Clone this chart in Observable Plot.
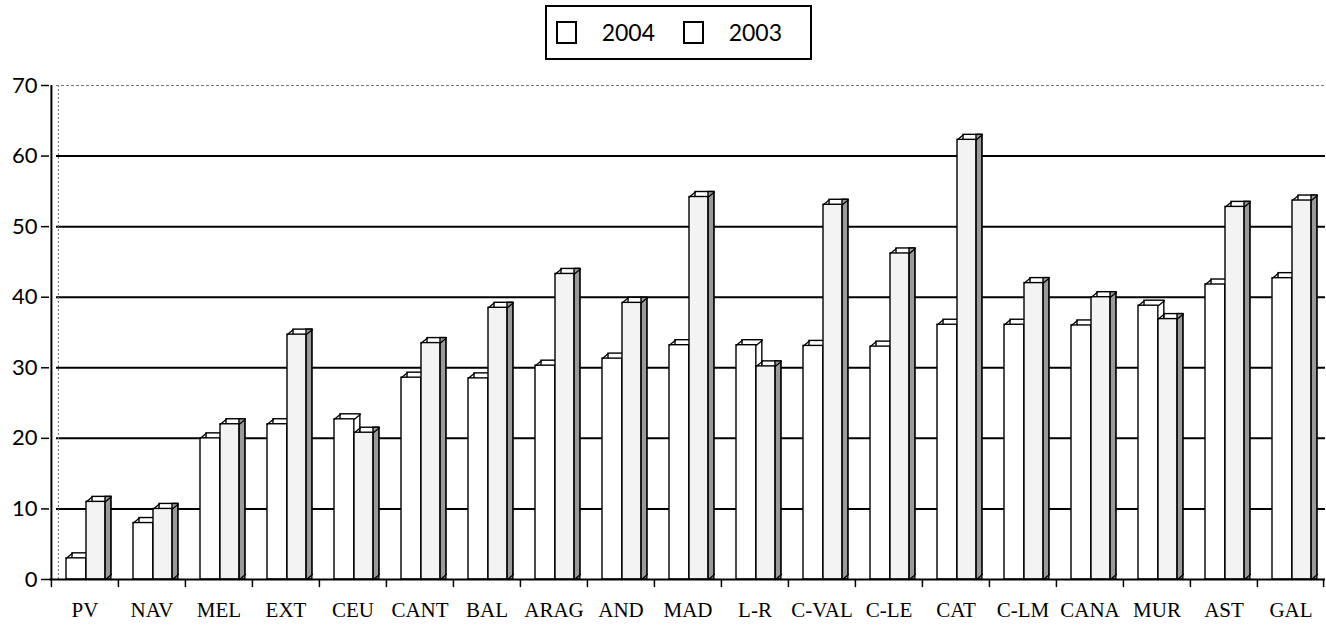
<!DOCTYPE html>
<html><head><meta charset="utf-8">
<script src="https://cdn.jsdelivr.net/npm/d3@7"></script>
<script src="https://cdn.jsdelivr.net/npm/@observablehq/plot@0.6"></script>
<style>
body{margin:0;background:#fff;}
#wrap{position:relative;width:1326px;height:636px;overflow:hidden;}
#legend{position:absolute;left:545px;top:5px;width:254px;height:51px;border:2px solid #000;display:flex;align-items:center;padding-left:9px;box-sizing:content-box;font-family:Lato,"Open Sans",sans-serif;font-size:23px;color:#000;}
#legend .sw{width:19px;height:19px;border:2px solid #000;margin-right:25px;background:#fff;}
#legend .lb{margin-right:28px;line-height:1;}
#chart{position:absolute;left:0;top:62px;}
</style></head><body>
<div id="wrap"><div id="legend"></div><div id="chart"></div></div>
<script>
const categories = ["PV","NAV","MEL","EXT","CEU","CANT","BAL","ARAG","AND","MAD","L-R","C-VAL","C-LE","CAT","C-LM","CANA","MUR","AST","GAL"];
const values2004 = [3,8,20,22,22.7,28.6,28.5,30.3,31.3,33.2,33.2,33.1,33,36.1,36.1,36,38.8,41.8,42.7];
const values2003 = [11,10,22,34.7,20.8,33.5,38.5,43.3,39.2,54.2,30.2,53.1,46.2,62.3,42,40,36.9,52.8,53.7];
const seriesNames = ["2004","2003"];
const yTicks = [0,10,20,30,40,50,60,70];
const gridValues = [10,20,30,40,50,60];
const topValue = [70];

// legend
const leg = document.getElementById("legend");
seriesNames.forEach(n => {
  const s = document.createElement("span"); s.className = "sw"; leg.appendChild(s);
  const t = document.createElement("span"); t.className = "lb"; t.textContent = n; leg.appendChild(t);
});

const W = 1326, H = 574, mL = 49, mR = 1, mT = 23, mB = 57;
const bw = (W - mL - mR) / categories.length;
const dX = 6, dY = 5;
const a1 = 15, a2 = 35, b1 = 35, b2 = 54;
const rows = categories.map((c, i) => ({cat: c, v2004: values2004[i], v2003: values2003[i]}));
const lineShape = {draw(ctx, l) { ctx.moveTo(0, 0); ctx.lineTo(0, -l); }};
const sLen = Math.hypot(dX, dY), sRot = Math.atan2(dX, dY) * 180 / Math.PI;
const slant = (y, off) => Plot.vector(rows, {x: "cat", y, dx: off - bw / 2, length: sLen, rotate: sRot, anchor: "start", shape: lineShape, stroke: "#000", fill: "none", strokeWidth: 1.3});
const sw = 1.4;

const chart = Plot.plot({
  width: W, height: H,
  marginLeft: mL, marginRight: mR, marginTop: mT, marginBottom: mB,
  x: {domain: categories, padding: 0},
  y: {domain: [0, 70]},
  marks: [
    Plot.ruleY(gridValues, {stroke: "#000", strokeWidth: 2, insetLeft: 7}),
    Plot.ruleY(topValue, {stroke: "#777", strokeWidth: 1, strokeDasharray: "3,2", insetLeft: 7}),
    Plot.ruleX([categories[0]], {dx: -bw / 2 + 7, y1: 0, y2: 70, stroke: "#777", strokeDasharray: "2,2"}),
    // 2004 bars
    Plot.barY(rows, {x: "cat", y: "v2004", insetLeft: a1, insetRight: bw - a2, dx: dX, dy: -dY, fill: "#fff", stroke: "#000", strokeWidth: sw}),
    Plot.barY(rows, {x: "cat", y: "v2004", insetLeft: a1, insetRight: bw - a2, fill: "#fff", stroke: "#000", strokeWidth: sw}),
    slant("v2004", a1), slant("v2004", a2),
    // 2003 bars
    Plot.barY(rows, {x: "cat", y: "v2003", insetLeft: b1, insetRight: bw - b2, dx: dX, dy: -dY, fill: "#fff", stroke: "#000", strokeWidth: sw}),
    Plot.barY(rows, {x: "cat", y: "v2003", insetLeft: b2, insetRight: bw - b2 - dX, dy: -dY, insetBottom: -dY, fill: "#9a9a9a", stroke: "#000", strokeWidth: sw}),
    Plot.barY(rows, {x: "cat", y: "v2003", insetLeft: b1, insetRight: bw - b2, fill: "#f3f3f3", stroke: "#000", strokeWidth: sw}),
    slant("v2003", b1), slant("v2003", b2), slant(() => 0, b2),
    // axes
    Plot.ruleY([0], {stroke: "#000", strokeWidth: 2}),
    Plot.ruleX([categories[0]], {dx: -bw / 2, y1: 0, y2: 70, stroke: "#000", strokeWidth: 2}),
    Plot.vector(rows, {x: "cat", y: () => 0, dx: -bw / 2, length: 7, rotate: 180, anchor: "start", shape: lineShape, stroke: "#000", fill: "none", strokeWidth: 1.5}),
    Plot.vector([categories[categories.length - 1]], {x: d => d, y: () => 0, dx: bw / 2 - 1, length: 7, rotate: 180, anchor: "start", shape: lineShape, stroke: "#000", fill: "none", strokeWidth: 1.5}),
    Plot.axisY({ticks: yTicks, tickSize: 8, tickPadding: 4, label: null, fontFamily: "Lato", fontSize: 22, strokeWidth: 1.5}),
    Plot.axisX({tickSize: 0, tickPadding: 23, label: null, fontFamily: "Liberation Serif", fontSize: 21})
  ],
  style: {background: "#fff", color: "#000"}
});
document.getElementById("chart").appendChild(chart);
</script>
</body></html>
